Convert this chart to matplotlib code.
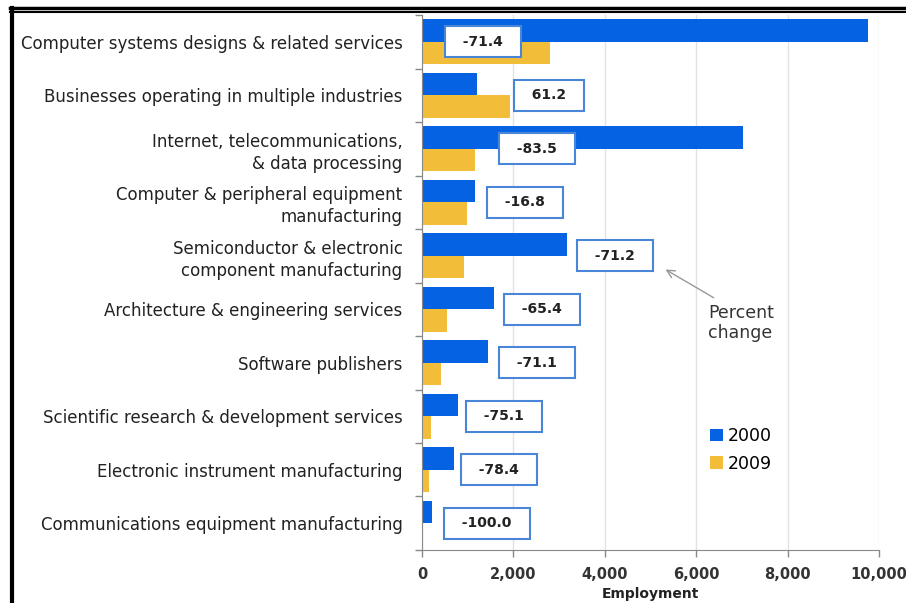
import matplotlib
matplotlib.use("Agg")
import matplotlib.pyplot as plt
from matplotlib.lines import Line2D
from matplotlib.ticker import FuncFormatter
import numpy as np

industries = [
    "Computer systems designs & related services",
    "Businesses operating in multiple industries",
    "Internet, telecommunications,\n& data processing",
    "Computer & peripheral equipment\nmanufacturing",
    "Semiconductor & electronic\ncomponent manufacturing",
    "Architecture & engineering services",
    "Software publishers",
    "Scientific research & development services",
    "Electronic instrument manufacturing",
    "Communications equipment manufacturing",
]
emp_2000 = [9760, 1200, 7020, 1170, 3180, 1580, 1445, 788, 700, 220]
emp_2009 = [2790, 1935, 1160, 975, 916, 545, 418, 196, 151, 0]
pct_change = [-71.4, 61.2, -83.5, -16.8, -71.2, -65.4, -71.1, -75.1, -78.4, -100.0]

# where each percent-change box sits along the x axis
box_x = [1335, 2780, 2516, 2254, 4223, 2626, 2516, 1794, 1685, 1422]

BLUE = "#0563E3"
GOLD = "#F2BE3A"
label_font = "DejaVu Sans"

fig = plt.figure(figsize=(9.06, 6.03), dpi=100)
ax = fig.add_axes([0.4658, 0.0879, 0.9702 - 0.4658, 0.9751 - 0.0879])

y = np.arange(len(industries))
h = 0.42
ax.barh(y - h / 2, emp_2000, height=h, color=BLUE, label="2000", zorder=2)
ax.barh(y + h / 2, emp_2009, height=h, color=GOLD, label="2009", zorder=2)

ax.set_xlim(0, 10000)
ax.set_ylim(len(industries) - 0.5, -0.5)

ax.set_xticks(np.arange(0, 10001, 2000))
ax.xaxis.set_major_formatter(FuncFormatter(lambda v, p: f"{int(v):,}"))
ax.tick_params(axis="x", length=5, width=1, color="#888888", labelsize=10.5,
               labelcolor="#333333", pad=7)
for t in ax.get_xticklabels():
    t.set_fontweight("bold")
ax.grid(axis="x", color="#E2E2E2", lw=1, zorder=0)

ax.set_yticks(y)
ax.set_yticklabels(industries, fontsize=12, family=label_font, color="#222222",
                   ha="right", linespacing=1.3)
ax.set_yticks(np.arange(len(industries) + 1) - 0.5, minor=True)
ax.tick_params(axis="y", which="major", length=0, pad=14)
ax.tick_params(axis="y", which="minor", length=5, width=1, color="#888888")

for side in ["top", "right"]:
    ax.spines[side].set_visible(False)
for side in ["left", "bottom"]:
    ax.spines[side].set_color("#888888")

ax.set_xlabel("Employment", fontsize=10, fontweight="bold", color="#222222", labelpad=4)

# percent change boxes
for yi, bx, pc in zip(y, box_x, pct_change):
    ax.text(bx, yi, f"  {pc:.1f}  ", ha="center", va="center", fontsize=10,
            fontweight="bold", color="#222222", zorder=4,
            bbox=dict(boxstyle="square,pad=0.6", fc="white", ec="#4A86D8", lw=1.5))

ax.annotate("", xy=(5274, 4.23), xytext=(6433, 4.81),
            arrowprops=dict(arrowstyle="->", color="#999999", lw=1, mutation_scale=14))
ax.text(6258, 4.91, "Percent\nchange", ha="left", va="top", fontsize=12.5,
        color="#333333", linespacing=1.1)

ax.legend(loc="center left", bbox_to_anchor=(0.595, 0.187), frameon=False,
          handlelength=0.75, handleheight=0.75, handletextpad=0.3,
          labelspacing=0.55, fontsize=12.5)

# page frame
fig.add_artist(Line2D([0.011, 1.0], [0.986, 0.986], color="black", lw=2.5,
                      transform=fig.transFigure))
fig.add_artist(Line2D([0.011, 1.0], [0.980, 0.980], color="black", lw=1.5,
                      transform=fig.transFigure))
fig.add_artist(Line2D([0.013, 0.013], [0.0, 0.987], color="black", lw=3,
                      transform=fig.transFigure))

fig.savefig("out.png", dpi=100)
